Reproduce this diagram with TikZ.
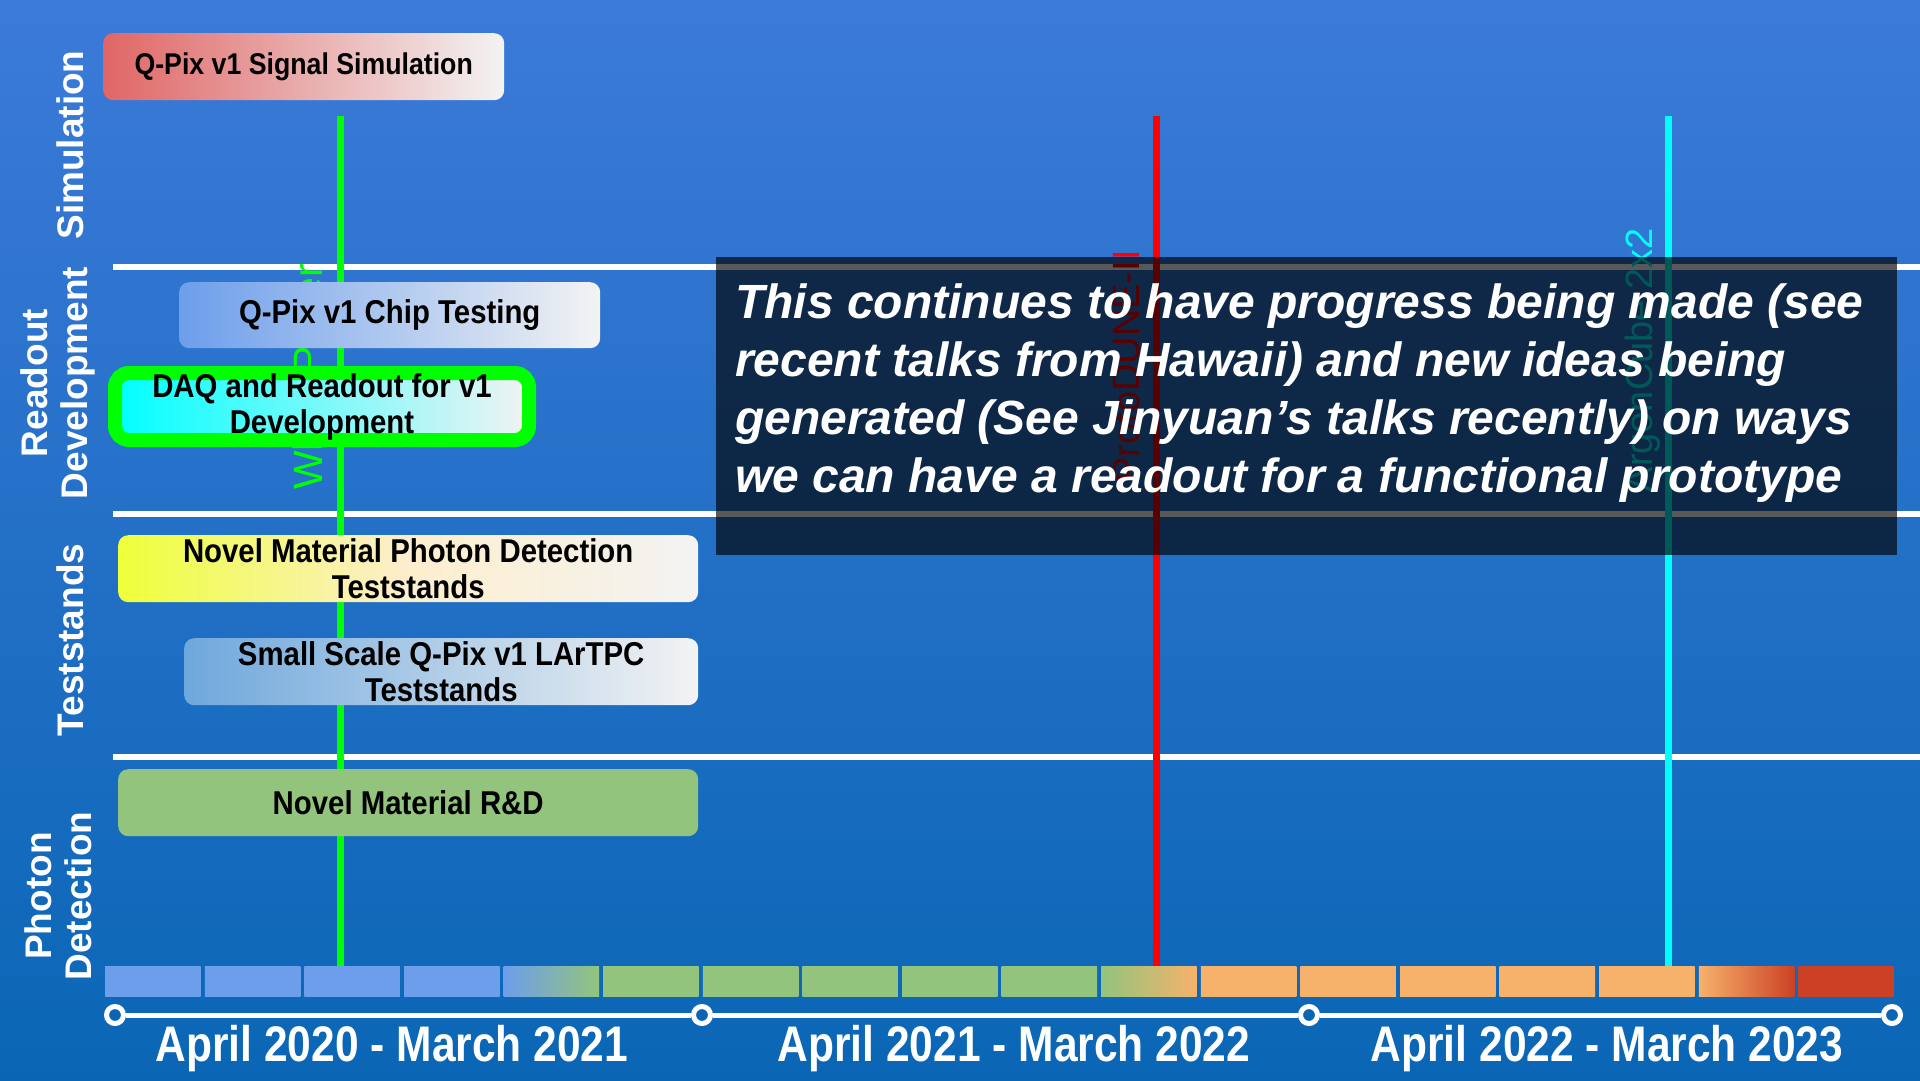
\documentclass[tikz,border=0pt]{standalone}
\usepackage{fontspec}
\setmainfont{Liberation Sans}
\newfontfamily\narrowfont[FakeStretch=0.85]{Liberation Sans}
\newfontfamily\taskfont[FakeStretch=0.89]{Liberation Sans}
\usepackage{xcolor}
\definecolor{bgTop}{HTML}{3C7AD9}
\definecolor{bgBottom}{HTML}{0A66B5}
\definecolor{markGreen}{HTML}{00FF00}
\definecolor{markRed}{HTML}{FF0000}
\definecolor{markCyan}{HTML}{00FFFF}
\definecolor{boxWhite}{HTML}{F3F3F3}
\definecolor{simRed}{HTML}{E06666}
\definecolor{chipBlue}{HTML}{6D9EEB}
\definecolor{standBlue}{HTML}{6FA8DC}
\definecolor{photonYellow}{HTML}{EEFF3A}
\definecolor{photonCream}{HTML}{FDEECD}
\definecolor{cellBlue}{HTML}{6D9EEB}
\definecolor{cellGreen}{HTML}{93C47D}
\definecolor{cellOrange}{HTML}{F6B26B}
\definecolor{cellRed}{HTML}{CC4125}

\begin{document}
\begin{tikzpicture}[x=1pt, y=-1pt,
  task/.style={rounded corners=10pt, anchor=north west, inner sep=0pt, minimum height=67pt, align=center, text=black, font=\taskfont\bfseries\fontsize{33}{36}\selectfont},
  lane/.style={rotate=90, text=white, align=center, font=\bfseries\fontsize{37}{40}\selectfont},
  sep/.style={white, line width=6.5pt},
  milestone/.style={line width=7pt},
  milelabel/.style={rotate=90, inner sep=0pt, font=\fontsize{38}{40}\selectfont},
  cellbox/.style={anchor=north west, minimum width=95.5pt, minimum height=30pt, inner sep=0pt},
  tick/.style={circle, draw=white, line width=5pt, fill=bgBottom, minimum size=17pt, inner sep=0pt},
  period/.style={text=white, font=\narrowfont\bfseries\fontsize{50}{56}\selectfont}]
\useasboundingbox (0,0) rectangle (1920,1080);
\shade[top color=bgTop, bottom color=bgBottom] (0,0) rectangle (1920,1080);

% lane separators
\foreach \y in {267,514,757}
  \draw[sep] (113,\y) -- (1920,\y);

% milestones
\draw[milestone, markGreen] (340,116) -- (340,966);
\draw[milestone, markRed] (1156,116) -- (1156,966);
\draw[milestone, markCyan] (1668,116) -- (1668,966);
\node[milelabel, text=markGreen, anchor=base west, font=\fontsize{41}{44}\selectfont] (paperlbl) at (322,490) {White Paper};
\node[milelabel, text=markRed, anchor=base east] (protolbl) at (1139,250) {ProtoDUNE-II};
\node[milelabel, text=markCyan, anchor=base east] (cubelbl) at (1652,228) {ArgonCube 2x2};

% tasks
\node[task, minimum width=401pt, left color=simRed, right color=boxWhite, font=\taskfont\bfseries\fontsize{30}{34}\selectfont] (sim) at (103,33) {Q-Pix v1 Signal Simulation};
\node[task, minimum width=421pt, minimum height=66pt, left color=chipBlue, right color=boxWhite] (chip) at (179,282) {Q-Pix v1 Chip Testing};
\node[task, minimum width=414pt, draw=markGreen, line width=14pt, rounded corners=14pt, left color=cyan, right color=boxWhite] (daq) at (108,366) {DAQ and Readout for v1\\Development};
\node[task, minimum width=580pt, left color=photonYellow, right color=boxWhite, middle color=photonCream] (photon) at (118,535) {Novel Material Photon Detection\\Teststands};
\node[task, minimum width=514pt, left color=standBlue, right color=boxWhite] (stand) at (184,638) {Small Scale Q-Pix v1 LArTPC\\Teststands};
\node[task, minimum width=580pt, fill=cellGreen] (novel) at (118,769) {Novel Material R\&D};

% lane titles
\node[lane] (lsim) at (70,145) {Simulation};
\node[lane] (lread) at (58,383) {Readout\\Development};
\node[lane] (ltest) at (70,640) {Teststands};
\node[lane] (lphot) at (58,896) {Photon\\Detection};

% quarter cells
\foreach \lc/\rc [count=\i from 0] in {cellBlue/cellBlue, cellBlue/cellBlue, cellBlue/cellBlue, cellBlue/cellBlue, cellBlue/cellGreen,
    cellGreen/cellGreen, cellGreen/cellGreen, cellGreen/cellGreen, cellGreen/cellGreen, cellGreen/cellGreen, cellGreen/cellOrange,
    cellOrange/cellOrange, cellOrange/cellOrange, cellOrange/cellOrange, cellOrange/cellOrange, cellOrange/cellOrange, cellOrange/cellRed, cellRed/cellRed}
  \node[cellbox, left color=\lc, right color=\rc] (cell\i) at ({105+99.6*\i},966) {};

% years
\foreach \x [count=\i from 0] in {115,702,1309,1892}
  \node[tick] (t\i) at (\x,1015) {};
\draw[white, line width=5pt] (t0) -- (t1) (t1) -- (t2) (t2) -- (t3);
\node[period] (y1) at (392,1049) {April 2020 - March 2021};
\node[period] (y2) at (1014,1049) {April 2021 - March 2022};
\node[period] (y3) at (1607,1049) {April 2022 - March 2023};

% note
\fill[black, opacity=0.65] (716,257) rectangle (1897,555);
\node[anchor=west, align=left, inner sep=0pt, text=white, font=\bfseries\itshape\fontsize{48}{58}\selectfont] (note) at (735,393)
  {This continues to have progress being made (see\\recent talks from Hawaii) and new ideas being\\generated (See Jinyuan’s talks recently) on ways\\we can have a readout for a functional prototype};
\end{tikzpicture}
\end{document}
